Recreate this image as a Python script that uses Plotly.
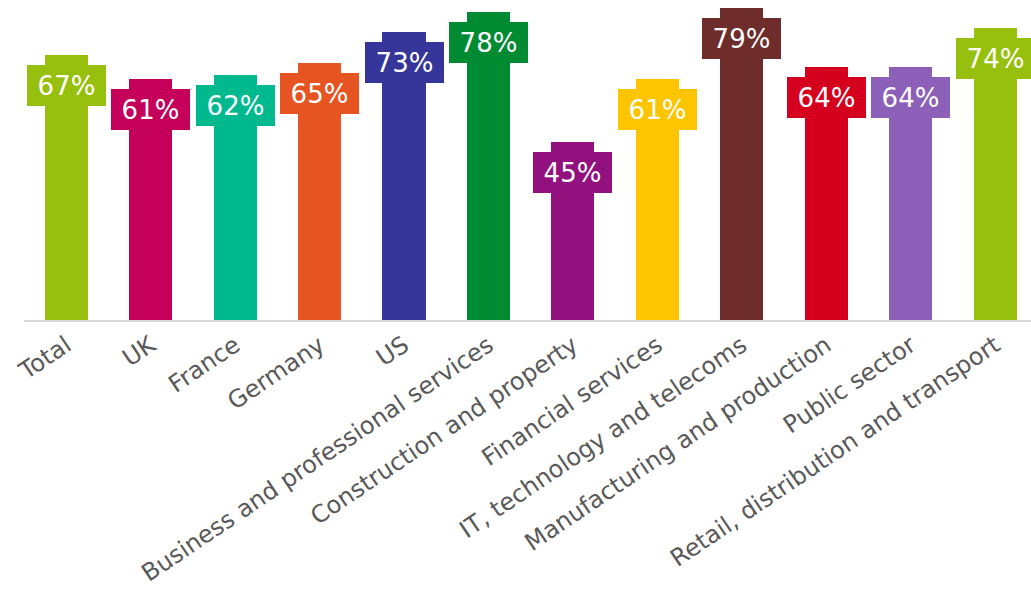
import plotly.graph_objects as go

categories = [
    "Total", "UK", "France", "Germany", "US",
    "Business and professional services", "Construction and property",
    "Financial services", "IT, technology and telecoms",
    "Manufacturing and production", "Public sector",
    "Retail, distribution and transport",
]
values = [67, 61, 62, 65, 73, 78, 45, 61, 79, 64, 64, 74]
colors = [
    "#97BF0D", "#C4005B", "#00B98F", "#E55421", "#36359A", "#008A32",
    "#93117E", "#FDC400", "#6E2D2A", "#D5001E", "#8C5FB8", "#97BF0D",
]
value_labels = [f"{v}%" for v in values]

FONT = "DejaVu Sans"

fig = go.Figure(
    go.Bar(
        x=categories,
        y=values,
        marker=dict(color=colors, line=dict(width=0)),
        width=0.51,
        hoverinfo="skip",
    )
)

# Value tags: coloured boxes wider than the bar, just below each bar's top
for cat, val, lab, col in zip(categories, values, value_labels, colors):
    fig.add_annotation(
        x=cat, y=val, xref="x", yref="y",
        text=lab, showarrow=False,
        yanchor="top", yshift=-10,
        width=79, height=41,
        bgcolor=col, borderpad=0, borderwidth=0,
        font=dict(family=FONT, size=26, color="white"),
        align="center", valign="middle",
    )

slot = 84.45
plot_w = 1031 - 24

fig.update_layout(
    width=1031, height=589,
    margin=dict(l=24, r=0, t=0, b=269),
    paper_bgcolor="white", plot_bgcolor="white",
    showlegend=False,
    bargap=0,
    xaxis=dict(
        type="category",
        range=[-0.5, -0.5 + plot_w / slot],
        showline=True, linecolor="#D9D9D9", linewidth=2,
        ticks="", showgrid=False, zeroline=False,
        tickangle=-34, automargin=False,
        tickfont=dict(family=FONT, size=24, color="#595959"),
    ),
    yaxis=dict(
        range=[0, 81], visible=False, showgrid=False, zeroline=False,
    ),
)

fig.write_html("out.html")
